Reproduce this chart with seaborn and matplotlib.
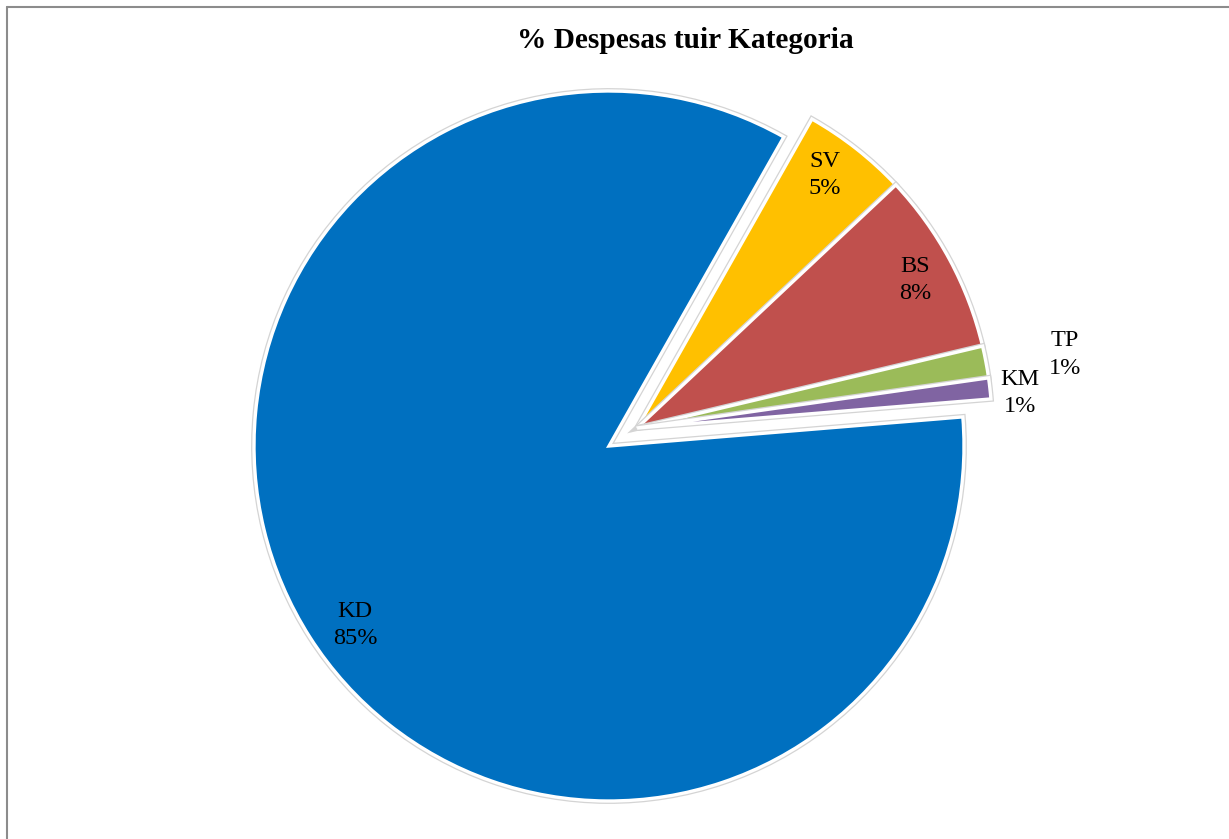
import matplotlib
matplotlib.use("Agg")
import matplotlib.pyplot as plt
from matplotlib.lines import Line2D
import matplotlib.patheffects as pe
import numpy as np
import seaborn as sns

# ---- data ----
categories = ["SV", "BS", "TP", "KM", "KD"]
values = [4.8, 8.3, 1.45, 0.95, 84.5]
pct_labels = ["5%", "8%", "1%", "1%", "85%"]
title_text = "% Despesas tuir Kategoria"

# ---- style ----
colors = ["#FFC000", "#C0504D", "#9BBB59", "#8064A2", "#0070C0"]
pulled = [True, True, True, True, False]   # slices pulled out as a group
pull_dist = 0.094
label_radius = [0.888, 0.887, 1.223, 1.083, 0.875]
label_angle_nudge = [1.5, -0.3, -1.0, -1.2, 2.6]

sns.set_theme(style="white")
plt.rcParams["font.family"] = ["Liberation Serif", "DejaVu Serif"]

W, H = 1229, 839
fig = plt.figure(figsize=(W / 100, H / 100), dpi=100)
ax = fig.add_axes([0, 0, 1, 1])

cx, cy, R = 609, 446, 355  # pixel centre / radius

wedges, _ = ax.pie(values, colors=colors, startangle=60.5,
                   counterclock=False, radius=1.0,
                   wedgeprops=dict(edgecolor="white", linewidth=2.4))

# pull the small slices out together along the bisector of the group
grp = [w for w, p in zip(wedges, pulled) if p]
t_hi = max(w.theta2 for w in grp)
t_lo = min(w.theta1 for w in grp)
gm = np.deg2rad((t_hi + t_lo) / 2)
shift = (pull_dist * np.cos(gm), pull_dist * np.sin(gm))
for w, p in zip(wedges, pulled):
    if p:
        w.set_center(shift)
    w.set_path_effects([pe.Stroke(linewidth=4.2, foreground="#d4d4d4"), pe.Normal()])

ax.set_xlim((0 - cx) / R, (W - cx) / R)
ax.set_ylim(-(H - cy) / R, cy / R)
ax.set_aspect("auto")
ax.axis("off")

for w, cat, pct, lr, nd in zip(wedges, categories, pct_labels, label_radius,
                               label_angle_nudge):
    th = np.deg2rad((w.theta1 + w.theta2) / 2 + nd)
    x0, y0 = w.center
    ax.text(x0 + lr * np.cos(th), y0 + lr * np.sin(th), f"{cat}\n{pct}",
            ha="center", va="center", fontsize=17.5, color="black",
            linespacing=1.4)

fig.text(685 / W, 1 - 41 / H, title_text, ha="center", va="center",
         fontsize=21.2, fontweight="bold", color="black")

# frame lines (left and top)
fig.add_artist(Line2D([7 / W, 7 / W], [0, 1 - 7 / H], transform=fig.transFigure,
                      color="#8c8c8c", linewidth=1.5))
fig.add_artist(Line2D([7 / W, 1], [1 - 7 / H, 1 - 7 / H], transform=fig.transFigure,
                      color="#8c8c8c", linewidth=1.5))

fig.savefig("out.png", dpi=100, facecolor="white")
